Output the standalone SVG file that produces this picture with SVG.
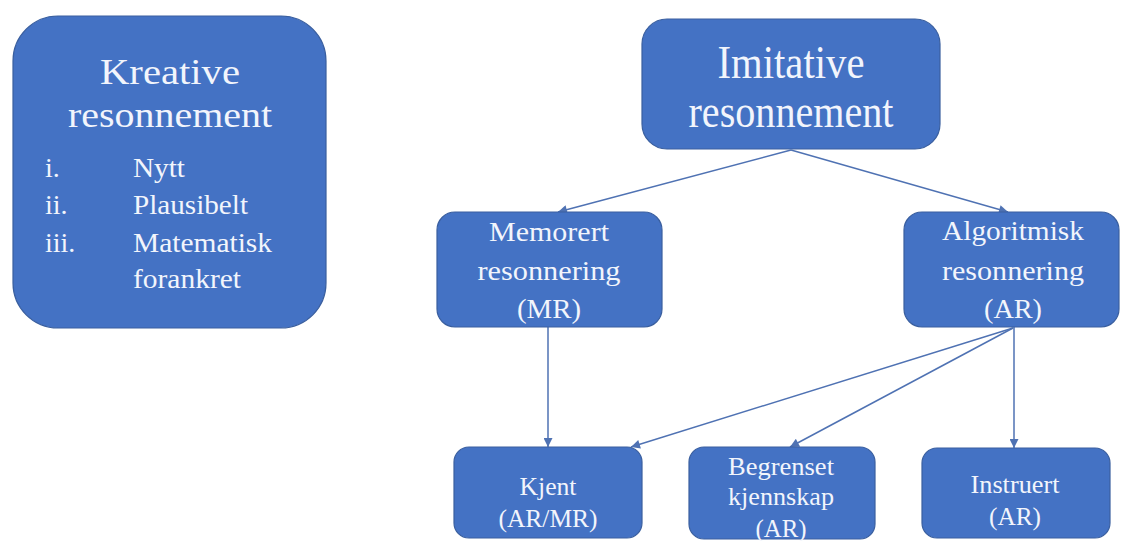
<svg xmlns="http://www.w3.org/2000/svg" width="1121" height="541" viewBox="0 0 1121 541">
<defs>
<style>
.box{fill:#4472C4;stroke:#3A5F9F;stroke-width:1.2}
.t{fill:#F2F5FC;text-anchor:middle}
.l{fill:#F2F5FC}
.c{stroke:#4F72B3;stroke-width:1.5;fill:none}
</style>
<marker id="ah" viewBox="0 0 10 10" refX="10" refY="5" markerWidth="10" markerHeight="9" markerUnits="userSpaceOnUse" orient="auto">
<path d="M0,0 L10,5 L0,10 z" fill="#4F72B3"/>
</marker>
</defs>
<rect width="1121" height="541" fill="#ffffff"/>
<g id="connectors">
<line class="c" x1="791" y1="150" x2="558" y2="212" marker-end="url(#ah)"/>
<line class="c" x1="791" y1="150" x2="1008" y2="212" marker-end="url(#ah)"/>
<line class="c" x1="548" y1="327" x2="548" y2="447" marker-end="url(#ah)"/>
<line class="c" x1="1014" y1="327" x2="1014" y2="448" marker-end="url(#ah)"/>
<line class="c" x1="1013" y1="328" x2="790" y2="447" marker-end="url(#ah)"/>
<line class="c" x1="1013" y1="328" x2="631" y2="447" marker-end="url(#ah)"/>
</g>
<g font-family="Liberation Serif, DejaVu Serif, serif">
<g id="kreative">
<rect class="box" x="13" y="16" width="313" height="312" rx="45"/>
<text class="t" x="170" y="84" font-size="36" textLength="140" lengthAdjust="spacingAndGlyphs">Kreative</text>
<text class="t" x="170" y="127" font-size="36" textLength="204" lengthAdjust="spacingAndGlyphs">resonnement</text>
<text class="l" x="45" y="177" font-size="28">i.</text>
<text class="l" x="133" y="177" font-size="28" textLength="52" lengthAdjust="spacingAndGlyphs">Nytt</text>
<text class="l" x="45" y="214" font-size="28">ii.</text>
<text class="l" x="133" y="214" font-size="28" textLength="115" lengthAdjust="spacingAndGlyphs">Plausibelt</text>
<text class="l" x="45" y="252" font-size="28">iii.</text>
<text class="l" x="133" y="252" font-size="28" textLength="139" lengthAdjust="spacingAndGlyphs">Matematisk</text>
<text class="l" x="133" y="288" font-size="28" textLength="108" lengthAdjust="spacingAndGlyphs">forankret</text>
</g>
<g id="imitative">
<rect class="box" x="642" y="19" width="298" height="130" rx="25"/>
<text class="t" x="791" y="78" font-size="46" textLength="147" lengthAdjust="spacingAndGlyphs">Imitative</text>
<text class="t" x="791" y="127" font-size="46" textLength="205" lengthAdjust="spacingAndGlyphs">resonnement</text>
</g>
<g id="memorert">
<rect class="box" x="437" y="212" width="225" height="115" rx="18"/>
<text class="t" x="549" y="241" font-size="28" textLength="120" lengthAdjust="spacingAndGlyphs">Memorert</text>
<text class="t" x="549" y="280" font-size="28" textLength="143" lengthAdjust="spacingAndGlyphs">resonnering</text>
<text class="t" x="549" y="318" font-size="28" textLength="64" lengthAdjust="spacingAndGlyphs">(MR)</text>
</g>
<g id="algoritmisk">
<rect class="box" x="904" y="212" width="215" height="115" rx="18"/>
<text class="t" x="1013" y="240" font-size="28" textLength="142" lengthAdjust="spacingAndGlyphs">Algoritmisk</text>
<text class="t" x="1013" y="280" font-size="28" textLength="142" lengthAdjust="spacingAndGlyphs">resonnering</text>
<text class="t" x="1013" y="318" font-size="28" textLength="58" lengthAdjust="spacingAndGlyphs">(AR)</text>
</g>
<g id="kjent">
<rect class="box" x="454" y="447" width="188" height="91" rx="15"/>
<text class="t" x="548" y="495" font-size="25" textLength="57" lengthAdjust="spacingAndGlyphs">Kjent</text>
<text class="t" x="548" y="527" font-size="25" textLength="99" lengthAdjust="spacingAndGlyphs">(AR/MR)</text>
</g>
<g id="begrenset">
<rect class="box" x="689" y="447" width="186" height="92" rx="15"/>
<text class="t" x="781" y="475" font-size="25" textLength="106" lengthAdjust="spacingAndGlyphs">Begrenset</text>
<text class="t" x="781" y="505" font-size="25" textLength="106" lengthAdjust="spacingAndGlyphs">kjennskap</text>
<text class="t" x="781" y="537" font-size="25" textLength="51" lengthAdjust="spacingAndGlyphs">(AR)</text>
</g>
<g id="instruert">
<rect class="box" x="922" y="448" width="188" height="90" rx="15"/>
<text class="t" x="1015" y="493" font-size="25" textLength="89" lengthAdjust="spacingAndGlyphs">Instruert</text>
<text class="t" x="1015" y="525" font-size="25" textLength="52" lengthAdjust="spacingAndGlyphs">(AR)</text>
</g>
</g>
</svg>
